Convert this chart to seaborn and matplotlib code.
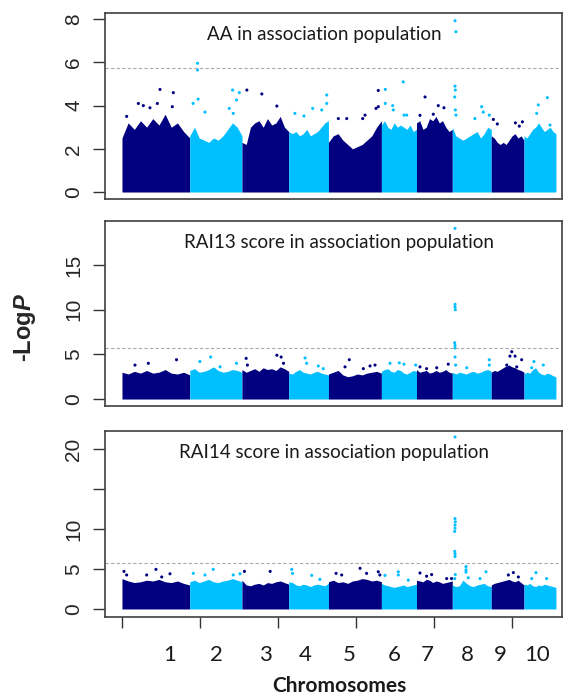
import numpy as np
import pandas as pd
import seaborn as sns
import matplotlib.pyplot as plt

# Chromosomes and SNP counts (thousands of SNPs per chromosome)
chrom_names = ["1", "2", "3", "4", "5", "6", "7", "8", "9", "10"]
chrom_snps_k = [87, 67, 60, 51, 68, 45, 46, 50, 42, 41]
# where the chromosome numbers sit under the axis (k SNPs)
chrom_label_pos = [61.6, 120.7, 183.6, 235, 291.4, 349.2, 391.5, 442.9, 485.2, 532.7]
chrom_colors = ["#000080", "#00BFFF"]
threshold = 5.75

titles = ["AA in association population",
          "RAI13 score in association population",
          "RAI14 score in association population"]

# dense part of each chromosome: top of the point cloud, read along each chromosome
aa_top = [
    [2.5, 3.2, 2.9, 3.3, 3.0, 3.4, 3.1, 3.6, 3.0, 3.2, 2.8, 2.5],
    [2.6, 3.0, 2.5, 2.4, 2.3, 2.5, 2.4, 2.6, 2.9, 3.2, 3.0, 2.6],
    [2.3, 2.2, 3.0, 3.2, 3.3, 3.0, 3.4, 3.1, 3.2, 3.5, 3.0, 2.8],
    [2.8, 2.7, 2.8, 2.6, 2.7, 2.9, 2.6, 2.7, 2.8, 3.0, 3.2, 3.3],
    [2.3, 2.6, 2.7, 2.4, 2.2, 2.0, 2.1, 2.2, 2.4, 2.6, 3.0, 3.3],
    [3.1, 3.3, 3.0, 2.9, 3.2, 3.0, 3.1, 3.0, 2.9, 3.1, 2.8, 2.9],
    [3.2, 3.3, 2.9, 3.0, 3.4, 3.3, 3.5, 3.2, 3.3, 3.0, 2.8, 2.9],
    [3.0, 2.6, 2.5, 2.4, 2.5, 2.6, 2.7, 2.8, 2.5, 2.7, 3.0, 2.9],
    [2.6, 2.5, 2.3, 2.2, 2.3, 2.2, 2.4, 2.6, 2.7, 2.5, 2.6, 2.4],
    [2.6, 2.5, 2.7, 2.9, 3.0, 3.2, 3.0, 2.8, 2.9, 3.0, 2.8, 2.7],
]
rai13_top = [
    [3.0, 2.8, 3.1, 2.9, 3.2, 2.9, 3.0, 3.3, 2.9, 2.8, 3.0, 2.7],
    [3.2, 3.4, 3.0, 3.1, 3.3, 3.6, 3.2, 3.0, 3.1, 3.3, 3.2, 3.0],
    [3.3, 3.0, 3.2, 3.4, 3.1, 3.5, 3.3, 3.4, 3.2, 3.6, 3.4, 3.1],
    [2.9, 2.8, 3.1, 3.3, 3.0, 2.9, 2.8, 3.0, 3.1, 2.9, 2.8, 2.7],
    [2.8, 3.0, 3.2, 2.7, 2.5, 2.6, 2.8, 2.7, 2.9, 3.0, 3.1, 2.9],
    [3.1, 3.3, 3.4, 3.1, 3.0, 3.3, 3.2, 2.9, 2.8, 3.0, 3.2, 3.1],
    [3.3, 3.0, 3.1, 3.2, 2.9, 3.0, 3.2, 3.0, 3.1, 3.3, 3.0, 2.9],
    [3.0, 2.8, 3.0, 2.9, 2.8, 3.0, 3.1, 2.9, 3.0, 3.2, 3.3, 3.1],
    [3.0, 3.2, 3.1, 3.3, 3.5, 3.7, 3.8, 3.6, 3.5, 3.3, 3.2, 3.0],
    [2.8, 3.0, 2.9, 3.3, 3.5, 3.0, 2.8, 2.7, 2.9, 2.8, 2.6, 2.5],
]
rai14_top = [
    [3.8, 3.5, 3.3, 3.4, 3.6, 3.5, 3.7, 3.4, 3.3, 3.5, 3.2, 3.0],
    [3.4, 3.6, 3.3, 3.5, 3.7, 3.4, 3.3, 3.5, 3.6, 3.8, 3.6, 3.4],
    [3.6, 3.0, 2.9, 3.1, 3.2, 3.0, 3.3, 3.2, 3.4, 3.5, 3.3, 3.1],
    [3.4, 3.3, 3.0, 2.9, 3.1, 3.0, 2.8, 3.0, 3.1, 3.0, 2.9, 3.2],
    [3.4, 3.6, 3.3, 3.4, 3.2, 3.5, 3.6, 3.8, 3.7, 3.5, 3.6, 3.4],
    [3.2, 3.0, 2.9, 2.8, 2.7, 2.8, 2.9, 3.0, 2.8, 2.9, 3.0, 3.1],
    [3.6, 3.5, 3.4, 3.7, 3.6, 3.3, 3.5, 3.4, 3.2, 3.3, 3.4, 3.5],
    [3.0, 2.8, 2.9, 3.6, 3.2, 2.9, 2.8, 3.0, 3.1, 3.2, 2.9, 2.8],
    [3.0, 3.2, 3.3, 3.4, 3.5, 3.6, 3.7, 3.5, 3.4, 3.6, 3.3, 3.0],
    [3.1, 3.0, 3.2, 2.9, 2.8, 3.0, 2.9, 3.1, 3.0, 2.9, 2.8, 2.7],
]

# sparse SNPs above the cloud: (chromosome, position in chromosome [k SNPs], -logP)
aa_peaks = [
    (1, 48.8, 4.75), (1, 65.9, 4.6), (1, 21, 4.1), (1, 27.4, 4.0), (1, 45.4, 4.1),
    (1, 64.6, 3.95), (1, 35.9, 3.9), (1, 6, 3.5),
    (2, 10, 5.96), (2, 10, 5.65), (2, 10.7, 4.3), (2, 4.3, 4.1), (2, 19.5, 3.7),
    (2, 55, 4.72), (2, 63.6, 4.6), (2, 60, 4.26), (2, 50.7, 3.87), (2, 55.8, 3.64),
    (3, 6.3, 4.72), (3, 25.5, 4.54), (3, 44.8, 3.98),
    (4, 8, 3.64), (4, 19.6, 3.52), (4, 30.8, 3.87), (4, 48.8, 4.49), (4, 48.8, 4.1), (4, 42.4, 3.8),
    (5, 12.7, 3.4), (5, 23.5, 3.4), (5, 44, 3.4), (5, 47, 3.56), (5, 64, 4.7), (5, 64, 3.95), (5, 61, 3.87),
    (6, 5, 4.75), (6, 5, 4.1), (6, 28, 5.1), (6, 14.5, 4.0), (6, 15.3, 3.8), (6, 29, 3.56), (6, 32.5, 3.56),
    (7, 11, 4.4), (7, 28, 4.0), (7, 4.5, 3.55), (7, 21.6, 3.6), (7, 35.3, 3.9),
    (8, 3.5, 7.93), (8, 4.7, 7.42), (8, 3.5, 4.9), (8, 3.9, 4.72), (8, 3.1, 4.4), (8, 3.9, 3.8),
    (8, 4.7, 3.56), (8, 29, 3.4), (8, 37.7, 3.95), (8, 39.8, 3.7), (8, 47.5, 3.56),
    (9, 2.7, 3.36), (9, 7.8, 3.15), (9, 31, 3.2), (9, 36, 3.05), (9, 40, 3.25),
    (10, 18.4, 4.03), (10, 30, 4.37), (10, 16.3, 3.64), (10, 33.4, 3.1),
]
rai13_peaks = [
    (1, 16.7, 3.8), (1, 33.8, 4.0), (1, 70, 4.4),
    (2, 26.8, 4.7), (2, 13, 4.2), (2, 39, 3.6), (2, 60, 4.0),
    (3, 5.4, 4.55), (3, 7, 3.8), (3, 44.8, 4.9), (3, 50.3, 4.7), (3, 53.3, 4.0),
    (4, 21, 4.6), (4, 23, 4.0), (4, 38, 3.7), (4, 44.4, 3.4),
    (5, 26.8, 4.4), (5, 21.3, 3.6), (5, 53.4, 3.7), (5, 59.8, 3.8), (5, 44.8, 3.4),
    (6, 11, 4.0), (6, 23, 4.05), (6, 29, 3.9), (6, 44, 3.8),
    (7, 4.5, 3.6), (7, 40.8, 3.9), (7, 26, 3.5), (7, 13, 3.4),
    (8, 3.5, 19.1), (8, 3.5, 10.6), (8, 3.5, 10.3), (8, 3.9, 10.0), (8, 3.1, 6.3),
    (8, 3.5, 6.0), (8, 3.5, 5.7), (8, 3.5, 4.7), (8, 4.3, 3.8),
    (8, 47.5, 4.4), (8, 47.5, 3.8), (8, 18.5, 3.5),
    (9, 26.3, 5.3), (9, 24, 4.8), (9, 30.6, 4.8), (9, 39, 4.4), (9, 19.9, 3.8), (9, 32.7, 3.6),
    (10, 12.8, 4.2), (10, 24.8, 3.8), (10, 9.9, 3.5),
]
rai14_peaks = [
    (1, 2.6, 4.7), (1, 43.6, 4.95), (1, 6, 4.25), (1, 31.7, 4.25), (1, 61.6, 4.4), (1, 51, 4.0),
    (2, 30.2, 4.95), (2, 4.5, 4.45), (2, 19.5, 4.25), (2, 55.8, 4.25), (2, 64.4, 4.4),
    (3, 3.2, 4.7), (3, 36.2, 4.7),
    (4, 3.9, 4.95), (4, 5, 4.45), (4, 29.5, 4.2), (4, 40, 3.7),
    (5, 40.6, 5.08), (5, 9.8, 4.45), (5, 49, 4.45), (5, 64, 4.65), (5, 66, 4.25), (5, 17, 4.25),
    (6, 4.6, 4.2), (6, 21.7, 4.65), (6, 21.7, 4.25), (6, 34.5, 3.6),
    (7, 4.5, 4.5), (7, 19.5, 4.3), (7, 13, 4.1), (7, 38.8, 3.8), (7, 45, 3.8),
    (8, 3.5, 21.5), (8, 3.5, 11.3), (8, 3.9, 10.9), (8, 3.5, 10.5), (8, 3.5, 10.1), (8, 3.1, 9.7),
    (8, 3.1, 7.2), (8, 3.5, 6.9), (8, 3.5, 6.55), (8, 3.9, 4.3), (8, 3.1, 3.8),
    (8, 17.6, 5.3), (8, 17.6, 4.9), (8, 17.6, 4.6), (8, 20.5, 3.9), (8, 43.3, 4.65), (8, 35.6, 3.8),
    (9, 28.4, 4.55), (9, 22, 4.25), (9, 34.8, 4.0),
    (10, 15.4, 4.55), (10, 29, 3.8), (10, 9.9, 3.8),
]

panels = [
    (titles[0], aa_top, aa_peaks, [0, 2, 4, 6, 8], ["0", "2", "4", "6", "8"], (-0.324, 8.287)),
    (titles[1], rai13_top, rai13_peaks, [0, 5, 10, 15], ["0", "5", "10", "15"], (-0.78, 19.93)),
    (titles[2], rai14_top, rai14_peaks, [0, 5, 10, 15, 20], ["0", "5", "10", "", "20"], (-1.0, 22.25)),
]
title_pos = [(0.481, 0.882), (0.512, 0.886), (0.501, 0.887)]

sns.set_style("white")
plt.rcParams["font.family"] = ["Liberation Sans", "DejaVu Sans"]
plt.rcParams["mathtext.fontset"] = "custom"
plt.rcParams["mathtext.it"] = "Liberation Sans:italic:bold"

starts = np.concatenate([[0], np.cumsum(chrom_snps_k)[:-1]])

fig = plt.figure(figsize=(5.63, 7.0), dpi=100)
boxes = [[0.1865, 0.7157, 0.8117, 0.2657],
         [0.1865, 0.4200, 0.8117, 0.2643],
         [0.1865, 0.1186, 0.8117, 0.2657]]

for k, (title, tops, peaks, yt, ytl, ylim) in enumerate(panels):
    ax = fig.add_axes(boxes[k])
    for i, top in enumerate(tops):
        xs = starts[i] + np.linspace(0, chrom_snps_k[i], len(top))
        ax.fill_between(xs, 0, top, color=chrom_colors[i % 2], lw=0)

    df = pd.DataFrame(peaks, columns=["chrom", "pos", "logp"])
    df["x"] = [starts[c - 1] + p for c, p in zip(df["chrom"], df["pos"])]
    df["grp"] = [(c - 1) % 2 for c in df["chrom"]]
    sns.scatterplot(data=df, x="x", y="logp", hue="grp", palette=chrom_colors,
                    s=5, linewidth=0, legend=False, ax=ax)

    ax.axhline(threshold, color="#aaaaaa", lw=0.8, ls=(0, (3, 2)))
    ax.set_xlim(-21.8, 564.8)
    ax.set_ylim(*ylim)
    ax.set_yticks(yt)
    ax.set_yticklabels(ytl, rotation=90, va="center")
    ax.tick_params(axis="y", direction="out", length=8.6, width=1.0, color="#333333",
                   labelsize=15, pad=7, left=True)
    ax.set_xlabel("")
    ax.set_ylabel("")
    for sp in ax.spines.values():
        sp.set_visible(True)
        sp.set_color("#404040")
        sp.set_linewidth(1.2)
    ax.text(title_pos[k][0], title_pos[k][1], title, transform=ax.transAxes,
            ha="center", va="center", fontsize=13.5, family="Lato", color="#1a1a1a")
    if k < 2:
        ax.set_xticks([])
    else:
        ax.set_xticks([0, 100, 200, 300, 400, 500])
        ax.set_xticklabels([])
        ax.tick_params(axis="x", direction="out", length=8, width=1.0, color="#333333", bottom=True)
        for c, name in zip(chrom_label_pos, chrom_names):
            ax.text(c, -0.204, name, transform=ax.get_xaxis_transform(),
                    ha="center", va="center", fontsize=16, family="Lato", color="#1a1a1a")

fig.text(25 / 563, 1 - 328 / 700, r"-Log$\mathit{P}$", rotation=90, ha="center", va="center",
         fontsize=17, fontweight="bold")
fig.text(339 / 563, 1 - 686 / 700, "Chromosomes", ha="center", va="center",
         fontsize=15, fontweight="bold", family="Lato", color="#1a1a1a")

fig.savefig("out.png", dpi=100)
